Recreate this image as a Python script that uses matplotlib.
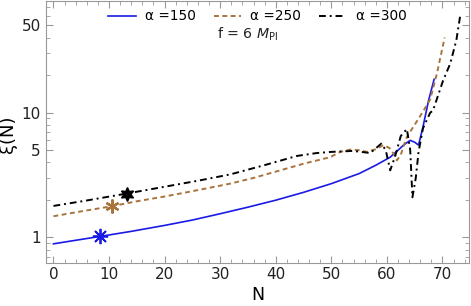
import numpy as np
import matplotlib
matplotlib.use("Agg")
import matplotlib.pyplot as plt
from matplotlib.ticker import LogLocator, MultipleLocator, FixedLocator, NullFormatter

# alpha = 150
n_150 = [0, 4, 8.4, 14, 20, 25, 30, 35, 40, 45, 50, 55, 58, 60.6, 62, 63, 64.2,
         65, 65.7, 66.5, 67.5, 68.5]
xi_150 = [0.89, 0.95, 1.02, 1.12, 1.25, 1.38, 1.55, 1.75, 1.99, 2.3, 2.7, 3.25, 3.79,
          4.4, 5.0, 5.5, 6.0, 5.8, 5.5, 7.7, 12.5, 18.5]

# alpha = 250
n_250 = [0, 5, 10.5, 15, 20, 25, 31.8, 36, 40, 45, 49.8, 51.6, 53.4, 55, 56.4, 58,
         59.4, 60.5, 61.2, 61.8, 62.5, 63.6, 65, 66.5, 67.8, 69, 70.4]
xi_250 = [1.48, 1.62, 1.78, 1.95, 2.13, 2.35, 2.7, 3.0, 3.37, 3.9, 4.4, 4.85, 5.06,
          5.0, 4.85, 5.1, 5.5, 5.2, 4.7, 4.15, 4.6, 6.4, 8.0, 10.2, 12.8, 20.5, 40]

# alpha = 300
n_300 = [0, 6, 13.2, 20, 26, 31.8, 38, 43.8, 47.4, 50, 53.9, 57, 59, 59.8, 60.6,
         61.5, 62.5, 63.6, 64.2, 64.6, 65.2, 65.7, 66.5, 67.8, 68.3, 70.1, 71.4,
         72.5, 73.2]
xi_300 = [1.79, 1.98, 2.25, 2.55, 2.85, 3.2, 3.8, 4.5, 4.75, 4.85, 4.94, 4.75, 5.65,
          5.0, 3.45, 4.5, 6.5, 7.4, 5.0, 2.1, 3.0, 4.85, 7.5, 10.0, 10.4, 18, 24.7,
          38, 60]

# star markers
star_n = [8.4, 10.5, 13.2]
star_xi = [1.02, 1.78, 2.25]

c_blue = "#1a1ae6"
c_brown = "#a8743c"
c_black = "#000000"
frame = "#999999"

fig = plt.figure(figsize=(4.71, 3.06), dpi=100)
ax = fig.add_axes([0.097, 0.142, 0.899, 0.856])

ax.plot(n_150, xi_150, color=c_blue, lw=1.2, label="α =150")
ax.plot(n_250, xi_250, color=c_brown, lw=1.4, ls=(0, (2.5, 1.8)), label="α =250")
ax.plot(n_300, xi_300, color=c_black, lw=1.4, ls=(0, (3.5, 2, 1, 2)), label="α =300")

ax.plot(star_n[0], star_xi[0], marker=(8, 2, 0), ms=11, color=c_blue, mew=1.3)
ax.plot(star_n[1], star_xi[1], marker=(6, 2, 0), ms=10, color=c_brown, mew=1.6)
ax.plot(star_n[2], star_xi[2], marker=(6, 1, 0), ms=10, color=c_black)

ax.set_yscale("log")
ax.set_xlim(-1.4, 74.8)
ax.set_ylim(0.63, 79)

ax.xaxis.set_major_locator(MultipleLocator(10))
ax.xaxis.set_minor_locator(MultipleLocator(2))
ax.yaxis.set_major_locator(FixedLocator([1, 5, 10, 50]))
ax.yaxis.set_major_formatter(plt.FuncFormatter(lambda v, p: f"{v:g}"))
ax.yaxis.set_minor_locator(LogLocator(base=10, subs=np.arange(1, 10)))
ax.yaxis.set_minor_formatter(NullFormatter())

ax.tick_params(which="both", direction="in", top=True, right=True, color=frame,
               labelsize=11, labelcolor="#222222")
ax.tick_params(which="major", length=5, width=0.8)
ax.tick_params(which="minor", length=3, width=0.6)
for s in ax.spines.values():
    s.set_color(frame)

ax.set_xlabel("N", fontsize=12.5)
ax.set_ylabel("ξ(N)", fontsize=13)
ax.xaxis.set_label_coords(0.5, -0.089)
ax.yaxis.set_label_coords(-0.067, 0.49)

ax.legend(loc="upper center", ncol=3, frameon=False, fontsize=9.8,
          bbox_to_anchor=(0.50, 1.0), handlelength=2.0, columnspacing=1.3,
          handletextpad=0.7, borderaxespad=0.25)
ax.text(0.476, 0.872, r"f = 6 $M_{\rm Pl}$", transform=ax.transAxes, ha="center",
        va="center", fontsize=10.2, color="#222222")

fig.savefig("out.png", dpi=100)
